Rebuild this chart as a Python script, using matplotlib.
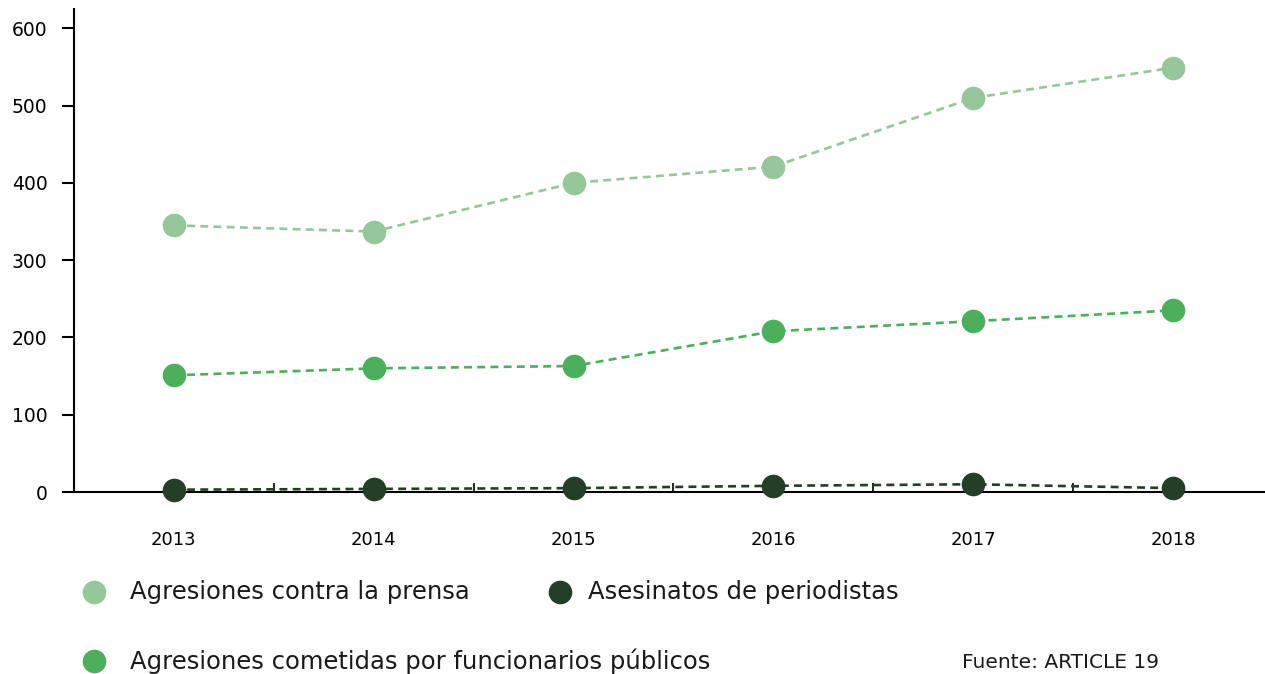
import matplotlib
matplotlib.use("Agg")
import matplotlib.pyplot as plt
from matplotlib.lines import Line2D
from matplotlib.ticker import FixedLocator

# Datos
anios = [2013, 2014, 2015, 2016, 2017, 2018]
agresiones_prensa = [345, 337, 400, 421, 510, 549]
agresiones_funcionarios = [151, 160, 163, 208, 221, 235]
asesinatos = [3, 4, 5, 8, 10, 5]

etiquetas = ["Agresiones contra la prensa",
             "Agresiones cometidas por funcionarios públicos",
             "Asesinatos de periodistas"]
colores = ["#95c79b", "#4caf5b", "#243f25"]
fuente = "Fuente: ARTICLE 19"

fig = plt.figure(figsize=(12.65, 6.74), dpi=100)
ax = fig.add_axes([74 / 1265, 1 - 492 / 674, 1 - 74 / 1265, (492 - 9) / 674])

for serie, color in zip([agresiones_prensa, agresiones_funcionarios, asesinatos], colores):
    ax.plot(anios, serie, linestyle=(0, (3, 2)), linewidth=1.9, color=color,
            marker="o", markersize=17, markeredgewidth=0, clip_on=False, zorder=3)

ax.set_xlim(2012.5, 2018.46)
ax.set_ylim(0, 625)

for s in ["top", "right"]:
    ax.spines[s].set_visible(False)
ax.spines["left"].set_linewidth(1.5)
ax.spines["bottom"].set_linewidth(1.5)

ax.yaxis.set_major_locator(FixedLocator([0, 100, 200, 300, 400, 500, 600]))
ax.tick_params(axis="y", direction="out", length=9, width=1.5, labelsize=13.5, pad=10)
ax.set_xticks(anios)
ax.set_xticklabels([str(a) for a in anios])
ax.tick_params(axis="x", which="major", length=0, labelsize=13, pad=28)
ax.xaxis.set_minor_locator(FixedLocator([a + 0.5 for a in anios[:-1]]))
ax.tick_params(axis="x", which="minor", direction="in", length=6.5, width=1.2)

# Leyenda manual
pos = [(94, 592, 130), (94, 661, 130), (560, 592, 588)]
for (mx, my, tx), etiqueta, color in zip(pos, etiquetas, colores):
    fig.add_artist(Line2D([mx / 1265], [1 - my / 674], marker="o", markersize=17,
                          markeredgewidth=0, color=color, transform=fig.transFigure))
    fig.text(tx / 1265, 1 - my / 674, etiqueta, fontsize=17.5,
             va="center", ha="left", color="#1a1a1a")

fig.text(962 / 1265, 1 - 662 / 674, fuente, fontsize=14.5,
         va="center", ha="left", color="#1a1a1a")

fig.savefig("out.png", dpi=100)
